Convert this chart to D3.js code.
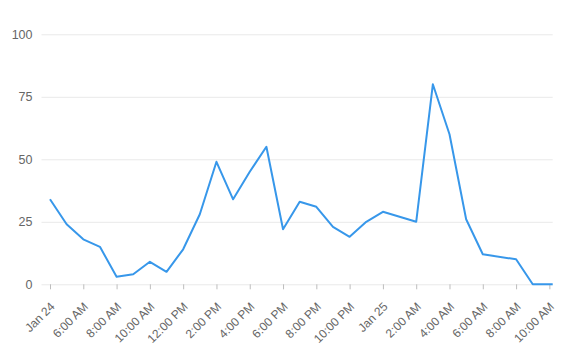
<!DOCTYPE html>
<html lang="en">
<head>
<meta charset="utf-8">
<title>Hourly line</title>
<script src="https://cdnjs.cloudflare.com/ajax/libs/d3/7.8.5/d3.min.js"></script>
<style>
  html, body { margin: 0; padding: 0; background: #fff; }
  svg { display: block; font-family: "Liberation Sans", Arial, sans-serif; }
  .grid line { stroke: #e9e9e9; }
  .tick text { fill: #666; font-size: 12px; }
</style>
</head>
<body>
<div id="chart"></div>
<script>
// data points (local time), a few hours have no reading
const times = [
  "2020-01-24T04:00", "2020-01-24T05:00", "2020-01-24T06:00", "2020-01-24T07:00",
  "2020-01-24T08:00", "2020-01-24T09:00", "2020-01-24T10:00", "2020-01-24T11:00",
  "2020-01-24T12:00", "2020-01-24T13:00", "2020-01-24T14:00", "2020-01-24T15:00",
  "2020-01-24T16:00", "2020-01-24T17:00", "2020-01-24T18:00", "2020-01-24T19:00",
  "2020-01-24T20:00", "2020-01-24T21:00", "2020-01-24T22:00", "2020-01-24T23:00",
  "2020-01-25T00:00", "2020-01-25T02:00", "2020-01-25T03:00", "2020-01-25T04:00",
  "2020-01-25T05:00", "2020-01-25T06:00", "2020-01-25T08:00", "2020-01-25T09:00",
  "2020-01-25T10:12"
];
const values = [34, 24, 18, 15, 3, 4, 9, 5, 14, 28, 49, 34, 45, 55, 22, 33,
  31, 23, 19, 25, 29, 25, 80, 60, 26, 12, 10, 0, 0];
const yTicks = [0, 25, 50, 75, 100];

const W = 564, H = 349;
const parse = d3.timeParse("%Y-%m-%dT%H:%M");
const data = times.map((t, i) => ({ t: parse(t), v: values[i] }));

const x = d3.scaleTime()
  .domain(d3.extent(data, d => d.t))
  .range([50, 552.7]);
const y = d3.scaleLinear()
  .domain([0, 100])
  .range([284.3, 34.3]);

const svg = d3.select("#chart").append("svg")
  .attr("width", W)
  .attr("height", H);

// horizontal grid + y labels
const yAxis = svg.append("g")
  .attr("class", "grid")
  .attr("transform", "translate(41.5,0)")
  .call(d3.axisLeft(y).tickValues(yTicks).tickSize(0).tickPadding(9))
  .call(g => g.select(".domain").remove());
yAxis.selectAll(".tick line")
  .attr("x2", 552.7 - 41.5)
  .attr("stroke", d => d === 0 ? "#bdbdbd" : "#ececec");
yAxis.selectAll(".tick text").style("font-size", "12.5px");

// x axis
const fmtDay = d3.timeFormat("%b %d");
const fmtHour = d3.timeFormat("%-I:%M %p");
const xTicks = d3.timeHour.every(2).range(data[0].t, data[data.length - 1].t);
const xAxis = svg.append("g")
  .attr("transform", "translate(0,284.3)")
  .call(d3.axisBottom(x)
    .tickValues(xTicks)
    .tickSize(5)
    .tickFormat((d, i) => (i === 0 || d.getHours() === 0) ? fmtDay(d) : fmtHour(d)));
xAxis.select(".domain").remove();
xAxis.selectAll(".tick line").attr("stroke", "#bdbdbd");
xAxis.selectAll(".tick text")
  .attr("text-anchor", "end")
  .attr("transform", "translate(-1,17) rotate(-45)")
  .attr("x", 0)
  .attr("y", 0)
  .attr("dy", "0.71em");

// line
const line = d3.line()
  .x(d => x(d.t))
  .y(d => y(d.v));

svg.append("path")
  .datum(data)
  .attr("fill", "none")
  .attr("stroke", "#3797ea")
  .attr("stroke-width", 2)
  .attr("stroke-linejoin", "round")
  .attr("d", line);
</script>
</body>
</html>
